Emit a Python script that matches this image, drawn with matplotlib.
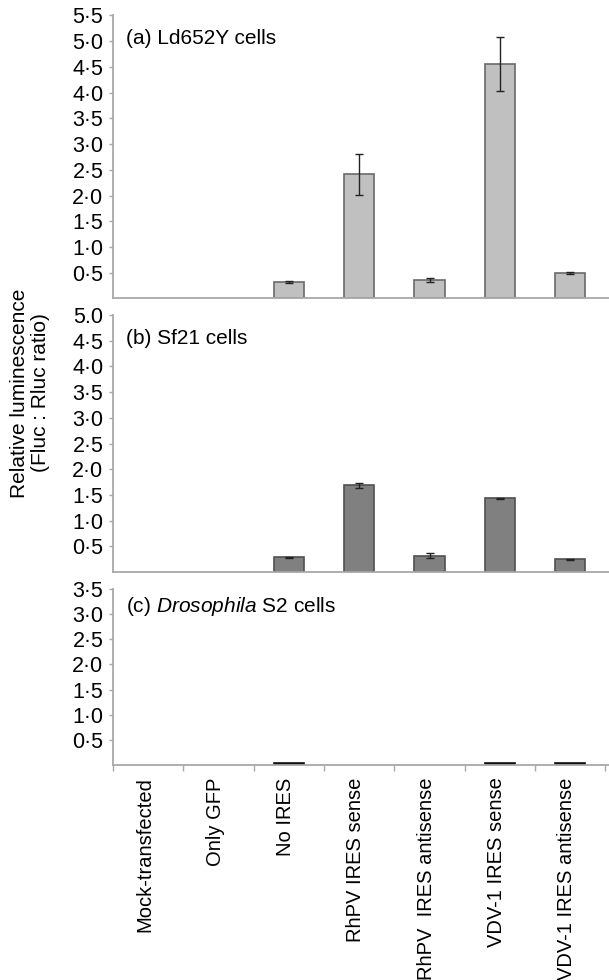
import numpy as np
import matplotlib
matplotlib.use("Agg")
import matplotlib.pyplot as plt

plt.rcParams['font.family'] = ['Liberation Sans', 'DejaVu Sans']
plt.rcParams['font.size'] = 15
plt.rcParams['mathtext.fontset'] = 'custom'
plt.rcParams['mathtext.rm'] = 'Liberation Sans'
plt.rcParams['mathtext.it'] = 'Liberation Sans:italic'

# categories along the x axis
categories = ['Mock-transfected', 'Only GFP', 'No IRES', 'RhPV IRES sense',
              'RhPV  IRES antisense', 'VDV-1 IRES sense', 'VDV-1 IRES antisense']

# relative luminescence (Fluc:Rluc), None = no bar
ld652y_vals = [None, None, 0.32, 2.41, 0.36, 4.56, 0.49]
ld652y_err = [None, None, 0.02, 0.40, 0.03, 0.53, 0.02]
sf21_vals = [None, None, 0.29, 1.69, 0.32, 1.43, 0.25]
sf21_err = [None, None, 0.01, 0.05, 0.05, 0.01, 0.01]
s2_vals = [None, None, 0.04, None, None, 0.04, 0.04]

# y tick labels as printed (middle-dot decimals)
ld652y_ticks = ['0·5', '1·0', '1·5', '2·0', '2·5', '3·0', '3·5', '4·0', '4·5', '5·0', '5·5']
sf21_ticks = ['0·5', '1·0', '1·5', '2·0', '2·5', '3·0', '3·5', '4·0', '4·5', '5.0']
s2_ticks = ['0·5', '1·0', '1·5', '2·0', '2·5', '3·0', '3·5']

W, H = 609, 980
fig = plt.figure(figsize=(W / 100, H / 100), dpi=100)

spine_col = '#a8a8a8'
left, right = 113, 609


def make_ax(top_px, bot_px):
    return fig.add_axes([left / W, 1 - bot_px / H, (right - left) / W, (bot_px - top_px) / H])


def style(ax, ymax, ticklabels):
    for s in ['top', 'right']:
        ax.spines[s].set_visible(False)
    for s in ['left', 'bottom']:
        ax.spines[s].set_color(spine_col)
        ax.spines[s].set_linewidth(1.3)
    ax.set_xlim(0, 7.05)
    ax.set_ylim(0, ymax)
    yt = np.arange(1, len(ticklabels) + 1) * 0.5
    ax.set_yticks(yt)
    ax.set_yticklabels(ticklabels)
    ax.tick_params(axis='y', length=3, width=1, color=spine_col, pad=4, labelsize=15.5)
    ax.set_xticks([])


def draw_bars(ax, vals, errs, color, edge):
    x = [i + 0.5 for i, v in enumerate(vals) if v is not None]
    h = [v for v in vals if v is not None]
    ax.bar(x, h, width=0.43, color=color, edgecolor=edge, linewidth=1.2, zorder=2)
    if errs is not None:
        e = [errs[i] for i, v in enumerate(vals) if v is not None]
        ax.errorbar(x, h, yerr=e, fmt='none', ecolor='#222222', elinewidth=1,
                    capsize=3, capthick=1, zorder=3)


ax_a = make_ax(15.5, 298.5)
style(ax_a, 5.5, ld652y_ticks)
draw_bars(ax_a, ld652y_vals, ld652y_err, '#c0c0c0', '#6a6a6a')
fig.text(126 / W, 1 - 39 / H, '(a) Ld652Y cells', fontsize=15, va='center')

ax_b = make_ax(315, 572)
style(ax_b, 5.0, sf21_ticks)
draw_bars(ax_b, sf21_vals, sf21_err, '#808080', '#505050')
fig.text(126 / W, 1 - 338 / H, '(b) Sf21 cells', fontsize=15, va='center')

ax_c = make_ax(589, 765)
style(ax_c, 3.5, s2_ticks)
draw_bars(ax_c, s2_vals, None, '#111111', '#111111')
fig.text(126 / W, 1 - 607 / H, r'(c) $\it{Drosophila}$ S2 cells', fontsize=15, va='center')

# x ticks at category boundaries, labels at centres
ax_c.set_xticks(np.arange(0, 8))
ax_c.set_xticklabels([])
ax_c.tick_params(axis='x', which='major', length=4, width=1, color=spine_col)
ax_c.set_xticks(np.arange(7) + 0.45, minor=True)
ax_c.set_xticklabels(categories, minor=True, rotation=90, va='top', ha='center', fontsize=14.5)
ax_c.tick_params(axis='x', which='minor', length=0, pad=9)

fig.text(30 / W, 1 - 393 / H, 'Relative luminescence\n(Fluc : Rluc ratio)', rotation=90,
         ha='center', va='center', multialignment='center', fontsize=15, linespacing=1.1)

fig.savefig('out.png', dpi=100)
